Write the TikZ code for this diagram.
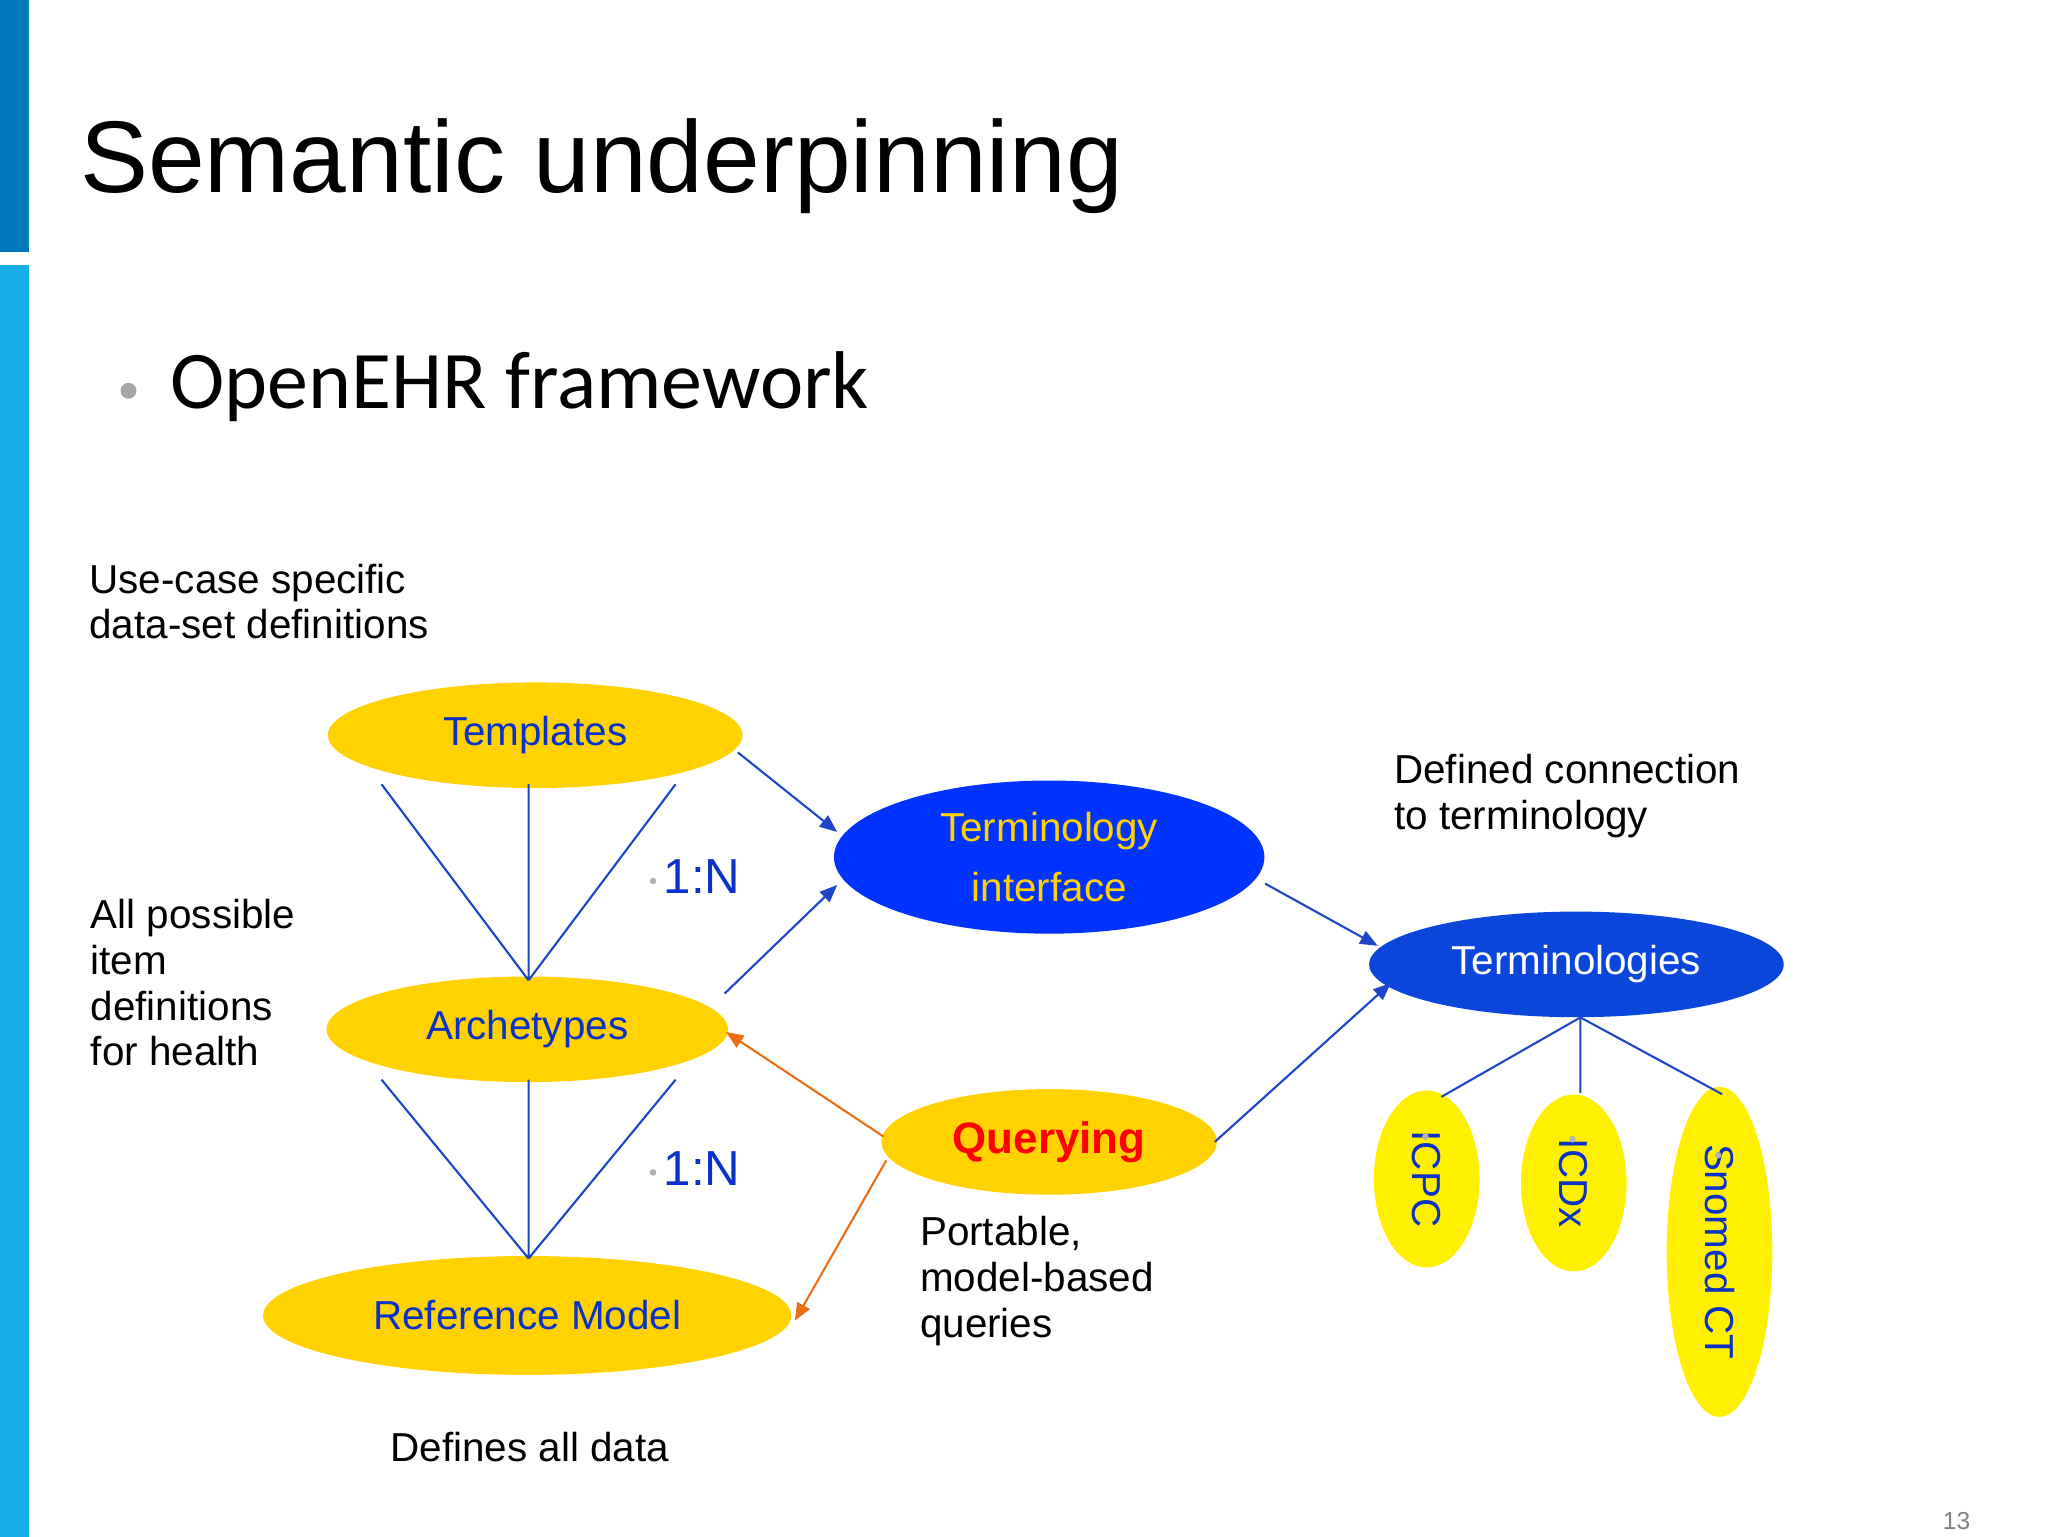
\documentclass[tikz,border=0pt]{standalone}
\usepackage{fontspec}
\setmainfont{Liberation Sans}
\newfontfamily\carl{Carlito}
\usetikzlibrary{shapes.geometric,arrows.meta}
\definecolor{gold}{RGB}{255,210,0}
\definecolor{yel}{RGB}{255,240,0}
\definecolor{tblue}{RGB}{0,51,255}
\definecolor{tblue2}{RGB}{10,70,220}
\definecolor{txtblue}{RGB}{10,50,200}
\definecolor{lnblue}{RGB}{30,70,200}
\definecolor{orng}{RGB}{235,110,20}
\definecolor{bar1}{RGB}{0,120,190}
\definecolor{bar2}{RGB}{20,175,230}
\begin{document}
\begin{tikzpicture}[x=0.013247cm,y=-0.013247cm,
  ell/.style={ellipse,draw=none,inner sep=0pt},
  esz/.style 2 args={minimum width=#1*0.3756pt,minimum height=#2*0.3756pt},
  lbl/.style={font=\fontsize{11.5}{13}\selectfont,align=left,anchor=west,inner sep=0pt},
  ln/.style={draw=lnblue,line width=0.6pt},
  ar/.style={ln,-{Triangle[length=5pt,width=4pt]}},
  oar/.style={draw=orng,line width=0.6pt,-{Triangle[length=5pt,width=4pt]}}]
\useasboundingbox (0,0) rectangle (1546,1160);
\fill[white] (0,0) rectangle (1546,1160);
\fill[bar1] (0,0) rectangle (22,190);
\fill[bar2] (0,200) rectangle (22,1160);
\node[anchor=base west,inner sep=0pt,font=\fontsize{29}{32}\selectfont] (title) at (60,145) {Semantic underpinning};
\fill[gray!70] (97,295) circle (6);
\node[anchor=west,inner sep=0pt,font=\carl\fontsize{23.3}{26}\selectfont] (sub) at (128,292) {OpenEHR framework};

\node[lbl] (t1) at (67,454) {Use-case specific\\data-set definitions};
\node[lbl] (t2) at (68,742) {All possible\\item\\definitions\\for health};
\node[lbl] (t3) at (1052,601) {Defined connection\\to terminology};
\node[lbl] (t4) at (694,967) {Portable,\\model-based\\queries};
\node[lbl,anchor=center] (t5) at (400,1092) {Defines all data};
\node[anchor=center,text=gray,font=\fontsize{7}{8}\selectfont] (pg) at (1477,1148) {13};

\node[ell,esz={314}{80},fill=gold,text=txtblue,font=\fontsize{11.5}{13}\selectfont] (tem) at (404,555) {Templates};
\node[ell,esz={304}{80},fill=gold,text=txtblue,font=\fontsize{11.5}{13}\selectfont] (arc) at (398,777) {Archetypes};
\node[ell,esz={400}{90},fill=gold,text=txtblue,font=\fontsize{11.5}{13}\selectfont] (ref) at (398,993) {Reference Model};
\node[ell,esz={326}{116},fill=tblue,text=gold,align=center,font=\fontsize{11.5}{17}\selectfont] (ti) at (792,647) {Terminology\\interface};
\node[ell,esz={314}{80},fill=tblue2,text=white,font=\fontsize{11.5}{13}\selectfont] (ts) at (1190,728) {Terminologies};
\node[ell,esz={254}{80},fill=gold,text=red,font=\bfseries\fontsize{12.5}{14}\selectfont] (q) at (792,862) {Querying};
\node[ell,esz={134}{80},fill=yel,text=txtblue,rotate=-90,font=\fontsize{11.5}{13}\selectfont] (icpc) at (1077,890) {ICPC};
\node[ell,esz={134}{80},fill=yel,text=txtblue,rotate=-90,font=\fontsize{11.5}{13}\selectfont] (icdx) at (1188,893) {ICDx};
\node[ell,esz={250}{80},fill=yel,text=txtblue,rotate=-90,font=\fontsize{11.5}{13}\selectfont] (sno) at (1298,945) {Snomed CT};
\foreach \p in {(1076,858),(1187,860),(1297,872)} \fill[gray!60] \p circle (2.5);

\node[text=txtblue,font=\fontsize{14}{16}\selectfont,inner sep=0pt] (n1) at (530,662) {1:N};
\node[text=txtblue,font=\fontsize{14}{16}\selectfont,inner sep=0pt] (n2) at (530,882) {1:N};
\fill[gray!60] (493,665) circle (2.5);
\fill[gray!60] (493,885) circle (2.5);

\coordinate (a1) at (288,592); \coordinate (a2) at (399,592); \coordinate (a3) at (510,592);
\coordinate (at) at (399,740);
\coordinate (b1) at (288,815); \coordinate (b2) at (399,815); \coordinate (b3) at (510,815);
\coordinate (bt) at (399,950);
\draw[ln] (a1)--(at) (a2)--(at) (a3)--(at);
\draw[ln] (b1)--(bt) (b2)--(bt) (b3)--(bt);

\coordinate (s1) at (557,568); \coordinate (e1) at (632,628);
\coordinate (s2) at (547,750); \coordinate (e2) at (632,668);
\coordinate (s3) at (955,667); \coordinate (e3) at (1040,714);
\coordinate (s4) at (917,862); \coordinate (e4) at (1050,742);
\draw[ar] (s1)--(e1);
\draw[ar] (s2)--(e2);
\draw[ar] (s3)--(e3);
\draw[ar] (s4)--(e4);
\coordinate (o1) at (667,858); \coordinate (f1) at (548,779);
\coordinate (o2) at (669,876); \coordinate (f2) at (600,997);
\draw[oar] (o1)--(f1);
\draw[oar] (o2)--(f2);

\coordinate (tr) at (1193,768);
\coordinate (c1) at (1088,828); \coordinate (c2) at (1193,825); \coordinate (c3) at (1300,826);
\draw[ln] (tr)--(c1) (tr)--(c2) (tr)--(c3);
\end{tikzpicture}
\end{document}
